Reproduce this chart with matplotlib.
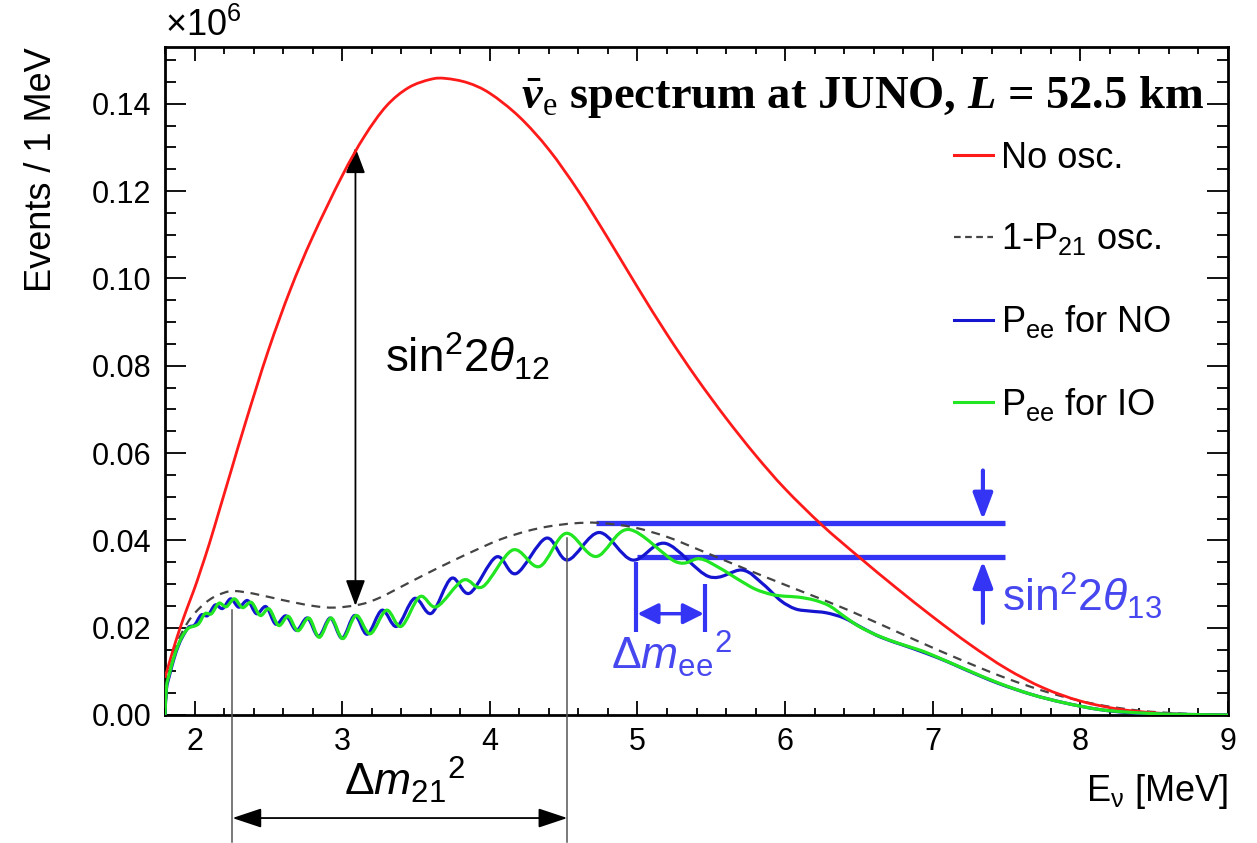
import numpy as np
import matplotlib
matplotlib.use("Agg")
import matplotlib.pyplot as plt
from matplotlib.path import Path
from matplotlib.patches import PathPatch
from matplotlib.lines import Line2D
from matplotlib.ticker import MultipleLocator, FormatStrFormatter

plt.rcParams['font.family'] = ['Liberation Sans', 'DejaVu Sans']
plt.rcParams['mathtext.fontset'] = 'custom'
plt.rcParams['mathtext.rm'] = 'Liberation Sans'
plt.rcParams['mathtext.it'] = 'Liberation Sans:italic'
plt.rcParams['mathtext.bf'] = 'Liberation Serif:bold'
plt.rcParams['mathtext.sf'] = 'Liberation Serif'
plt.rcParams['mathtext.bfit'] = 'Liberation Serif:italic:bold'

# values (x10^6 events / MeV)
energy_red = [1.80, 1.815, 1.86, 1.905, 1.95, 2.00, 2.04, 2.10, 2.176, 2.25, 2.35, 2.50, 2.65, 2.80,
              3.00, 3.15, 3.30, 3.45, 3.60, 3.70, 3.85, 4.00, 4.20, 4.40, 4.60, 4.80, 5.00, 5.20,
              5.40, 5.60, 5.80, 6.00, 6.25, 6.50, 6.75, 7.00, 7.25, 7.50, 7.75, 8.00, 8.25, 8.50,
              8.75, 9.00]
events_red = [0.0085, 0.0103, 0.0155, 0.0202, 0.0245, 0.0290, 0.0330, 0.0392, 0.0478, 0.0562, 0.0675,
              0.0835, 0.0975, 0.1095, 0.1235, 0.1325, 0.1395, 0.1437, 0.1456, 0.1458, 0.1448, 0.1424,
              0.1370, 0.1295, 0.1200, 0.1092, 0.0980, 0.0872, 0.0772, 0.0680, 0.0595, 0.0518, 0.0435,
              0.0362, 0.0292, 0.0225, 0.0162, 0.0106, 0.0062, 0.0032, 0.0014, 0.0005, 0.0001, 0.0000]

energy_p21 = [1.80, 1.815, 1.84, 1.88, 1.95, 2.02, 2.11, 2.20, 2.27, 2.40, 2.60, 2.80, 2.95, 3.12,
              3.25, 3.39, 3.55, 3.73, 3.90, 4.07, 4.25, 4.40, 4.57, 4.74, 4.97, 5.20, 5.42, 5.75,
              6.09, 6.43, 6.88, 7.20, 7.50, 7.80, 8.10, 8.40, 8.70, 9.00]
events_p21 = [0.0, 0.0065, 0.0110, 0.0163, 0.0210, 0.0240, 0.0266, 0.0280, 0.0284, 0.0278, 0.0263,
              0.0250, 0.0246, 0.0253, 0.0268, 0.0292, 0.0320, 0.0350, 0.0377, 0.0402, 0.0421, 0.0432,
              0.0439, 0.0440, 0.0430, 0.0408, 0.0378, 0.0332, 0.0286, 0.0240, 0.0172, 0.0125, 0.0084,
              0.0050, 0.0025, 0.0010, 0.0003, 0.0]

energy_no = [1.80, 1.81, 1.83, 1.86, 1.89, 1.92, 1.96,
             2.00, 2.045, 2.09, 2.14, 2.19, 2.245, 2.30, 2.36, 2.42, 2.485,
             2.55, 2.62, 2.69, 2.765, 2.84, 2.92, 3.00, 3.085, 3.17, 3.27,
             3.37, 3.49, 3.605, 3.74, 3.864, 4.044, 4.179, 4.382, 4.527, 4.741,
             4.966, 5.19, 5.484, 5.709, 5.85, 5.97, 6.07, 6.17, 6.28, 6.40,
             6.52, 6.65, 6.80, 6.95, 7.10, 7.22, 7.44, 7.67, 7.89, 8.12,
             8.34, 8.60, 9.00]
events_no = [0.0, 0.0060, 0.0090, 0.0128, 0.0158, 0.0180, 0.0201,
             0.0206, 0.0229, 0.0228, 0.0252, 0.0244, 0.0266, 0.0247, 0.0262, 0.0232, 0.0248,
             0.0208, 0.0227, 0.0194, 0.0222, 0.0180, 0.0222, 0.0176, 0.0228, 0.0185, 0.0240,
             0.0203, 0.0267, 0.0233, 0.0313, 0.0279, 0.0362, 0.0324, 0.0405, 0.0355, 0.0418,
             0.0355, 0.0393, 0.0317, 0.0332, 0.0300, 0.0262, 0.0243, 0.0238, 0.0234, 0.0222,
             0.0200, 0.0178, 0.0160, 0.0142, 0.0122, 0.0104, 0.0073, 0.0047, 0.0028, 0.0013,
             0.0005, 0.0002, 0.0]

energy_io = [1.80, 1.81, 1.83, 1.86, 1.89, 1.92, 1.96,
             2.025, 2.07, 2.115, 2.165, 2.215, 2.27, 2.325, 2.385, 2.445, 2.505,
             2.57, 2.635, 2.70, 2.775, 2.845, 2.925, 3.005, 3.095, 3.19, 3.30,
             3.40, 3.526, 3.64, 3.82, 3.953, 4.156, 4.336, 4.516, 4.72, 4.94,
             5.26, 5.42, 5.55, 5.69, 5.80, 5.91, 6.00, 6.09, 6.20, 6.30,
             6.40, 6.50, 6.62, 6.77, 6.90, 7.00, 7.22, 7.44, 7.67, 7.89,
             8.12, 8.34, 8.60, 9.00]
events_io = [0.0, 0.0065, 0.0095, 0.0132, 0.0161, 0.0182, 0.0199,
             0.0208, 0.0232, 0.0232, 0.0256, 0.0248, 0.0266, 0.0246, 0.0258, 0.0228, 0.0243,
             0.0205, 0.0226, 0.0193, 0.0222, 0.0178, 0.0222, 0.0175, 0.0228, 0.0186, 0.0240,
             0.0203, 0.0271, 0.0248, 0.0309, 0.0294, 0.0378, 0.0340, 0.0416, 0.0363, 0.0425,
             0.0351, 0.0358, 0.0338, 0.0309, 0.0288, 0.0276, 0.0272, 0.0270, 0.0263, 0.0250,
             0.0226, 0.0203, 0.0183, 0.0164, 0.0150, 0.0137, 0.0105, 0.0074, 0.0047, 0.0028,
             0.0013, 0.0006, 0.0002, 0.0]

labels = ["No osc.", "1-P$_{21}$ osc.", "P$_{\\rm ee}$ for NO", "P$_{\\rm ee}$ for IO"]

RED = '#ff1a1a'
NAVY = '#1515d0'
GREEN = '#22e622'
GREY = '#444444'
ABLUE = '#3434f4'


def smooth_path(xs, ys):
    # Catmull-Rom through the read points, drawn as bezier pieces
    p = np.column_stack([xs, ys])
    q = np.vstack([p[0], p, p[-1]])
    verts = [p[0]]
    codes = [Path.MOVETO]
    for i in range(1, len(q) - 2):
        c1 = q[i] + (q[i + 1] - q[i - 1]) / 6
        c2 = q[i + 1] - (q[i + 2] - q[i]) / 6
        verts += [c1, c2, q[i + 1]]
        codes += [Path.CURVE4] * 3
    return Path(verts, codes)


fig = plt.figure(figsize=(12.57, 8.43), dpi=100)
ax = fig.add_axes([165 / 1257, 128 / 843, 1063 / 1257, 668 / 843])

ax.add_patch(PathPatch(smooth_path(energy_red, events_red), fill=False, ec=RED, lw=2.0, zorder=4))
ax.add_patch(PathPatch(smooth_path(energy_p21, events_p21), fill=False, ec=GREY, lw=1.6,
                       ls=(0, (4, 3)), zorder=3))
ax.add_patch(PathPatch(smooth_path(energy_no, events_no), fill=False, ec=NAVY, lw=2.3, zorder=4))
ax.add_patch(PathPatch(smooth_path(energy_io, events_io), fill=False, ec=GREEN, lw=2.3, zorder=5))

ax.set_xlim(1.8, 9)
ax.set_ylim(0, 0.153)

ax.xaxis.set_major_locator(MultipleLocator(1))
ax.xaxis.set_minor_locator(MultipleLocator(0.2))
ax.yaxis.set_major_locator(MultipleLocator(0.02))
ax.yaxis.set_minor_locator(MultipleLocator(0.005))
ax.yaxis.set_major_formatter(FormatStrFormatter('%.2f'))
ax.tick_params(which='both', direction='in', top=True, right=True, width=1.3)
ax.tick_params(axis='y', which='major', length=15, labelsize=22, pad=10)
ax.tick_params(axis='y', which='minor', length=8)
ax.tick_params(axis='x', which='major', length=10, labelsize=22, pad=9)
ax.tick_params(axis='x', which='minor', length=5)
for s in ax.spines.values():
    s.set_linewidth(2)

ax.set_ylabel("Events / 1 MeV", fontsize=26, loc='top')
ax.yaxis.set_label_coords(-0.10, 1.0)
ax.set_xlabel("E$_{\\mathrm{\\nu}}$ [MeV]", fontsize=26, loc='right')
ax.xaxis.set_label_coords(1.0, -0.085)
ax.text(0.0, 1.004, "$\\times$10$^{6}$", transform=ax.transAxes, fontsize=26, ha='left', va='bottom')

ax.text(0.978, 0.909, "$\\bar{\\mathbfit{\\nu}}_{\\mathsf{e}}$ spectrum at JUNO, $\\mathbfit{L}$ = 52.5 km",
        transform=ax.transAxes, ha='right', va='baseline', fontsize=33.5,
        family='Liberation Serif', weight='bold')

handles = [Line2D([], [], color=RED, lw=2.2),
           Line2D([], [], color=GREY, lw=1.6, ls=(0, (3, 2))),
           Line2D([], [], color=NAVY, lw=2.2),
           Line2D([], [], color=GREEN, lw=2.2)]
ax.legend(handles, labels, loc='upper left', bbox_to_anchor=(0.742, 0.860), frameon=False,
          fontsize=26, handlelength=1.1, handletextpad=0.2, labelspacing=1.27,
          borderaxespad=0, borderpad=0)

# sin^2 2theta12 arrow and text
ax.annotate('', xy=(3.09, 0.1300), xytext=(3.09, 0.0250),
            arrowprops=dict(arrowstyle='<|-|>,head_length=0.8,head_width=0.3', mutation_scale=20,
                            lw=1.3, color='black', shrinkA=0, shrinkB=0))
ax.text(3.29, 0.0785, "sin$^{2}$2$\\theta_{12}$", fontsize=33, ha='left', va='baseline')

# sin^2 2theta13 bars and arrows
ax.plot([4.72, 7.49], [0.0439, 0.0439], color=ABLUE, lw=3.8, solid_capstyle='butt', zorder=2)
ax.plot([5.00, 7.49], [0.0361, 0.0361], color=ABLUE, lw=3.8, solid_capstyle='butt', zorder=2)
ax.annotate('', xy=(7.34, 0.0447), xytext=(7.34, 0.0560),
            arrowprops=dict(arrowstyle='-|>,head_length=0.8,head_width=0.3', mutation_scale=20,
                            lw=3.0, color=ABLUE, shrinkA=0, shrinkB=0))
ax.annotate('', xy=(7.34, 0.0353), xytext=(7.34, 0.0211),
            arrowprops=dict(arrowstyle='-|>,head_length=0.8,head_width=0.3', mutation_scale=20,
                            lw=3.0, color=ABLUE, shrinkA=0, shrinkB=0))
ax.text(7.47, 0.0236, "sin$^{2}$2$\\theta_{13}$", fontsize=32, color='#4747f0', ha='left', va='baseline')

# Delta m_ee^2 bracket
ax.plot([4.99, 4.99], [0.0351, 0.0191], color=ABLUE, lw=3.0, solid_capstyle='butt', zorder=6)
ax.plot([5.46, 5.46], [0.0300, 0.0191], color=ABLUE, lw=3.0, solid_capstyle='butt', zorder=6)
ax.annotate('', xy=(5.00, 0.0232), xytext=(5.45, 0.0232),
            arrowprops=dict(arrowstyle='<|-|>,head_length=0.7,head_width=0.35', mutation_scale=18,
                            lw=2.5, color=ABLUE, shrinkA=0, shrinkB=0))
ax.text(4.82, 0.0105, "$\\Delta m_{\\rm ee}{}^{2}$", fontsize=32, color='#4747f0', ha='left', va='baseline')

# Delta m_21^2 marker below the axis
ax.plot([2.257, 2.257], [0.0240, -0.0290], color='#555555', lw=1.1, clip_on=False, zorder=6)
ax.plot([4.525, 4.525], [0.0405, -0.0290], color='#555555', lw=1.1, clip_on=False, zorder=6)
ax.annotate('', xy=(2.257, -0.0236), xytext=(4.525, -0.0236), annotation_clip=False,
            arrowprops=dict(arrowstyle='<|-|>,head_length=0.9,head_width=0.3', mutation_scale=20,
                            lw=1.3, color='black', shrinkA=0, shrinkB=0))
ax.text(3.42, -0.0148, "$\\Delta m_{21}{}^{2}$", fontsize=32, ha='center', va='center', clip_on=False)

fig.savefig("out.png", dpi=100)
